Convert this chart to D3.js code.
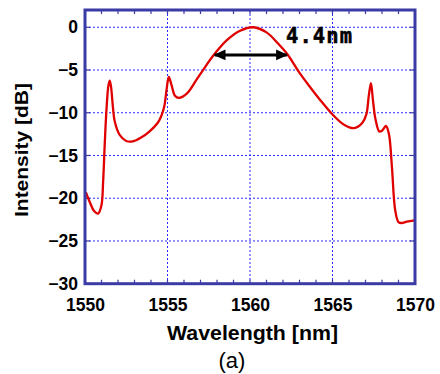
<!DOCTYPE html>
<html><head><meta charset="utf-8">
<script src="https://cdn.jsdelivr.net/npm/d3@7"></script>
<style>
body{margin:0;background:#fff;}
svg{display:block;}
</style></head>
<body><svg id="c" width="440" height="374"></svg>
<script>
const wavelength = [1550.05,1550.3,1550.55,1550.8,1551.0,1551.1,1551.2,1551.3,1551.42,1551.5,1551.58,1551.7,1551.8,1552.1,1552.5,1552.9,1553.4,1553.9,1554.4,1554.6,1554.8,1554.95,1555.08,1555.25,1555.45,1555.7,1556.2,1556.8,1557.3,1557.8,1558.6,1559.4,1560.2,1561.0,1561.7,1562.3,1562.95,1563.6,1564.25,1565.0,1565.7,1566.3,1566.8,1567.05,1567.2,1567.33,1567.45,1567.6,1567.84,1568.0,1568.24,1568.42,1568.6,1568.8,1569.0,1569.2,1569.5,1570.0];
const intensity = [-19.3,-20.5,-21.5,-21.8,-20.8,-18.0,-13.5,-9.7,-6.8,-6.25,-7.0,-9.5,-11.0,-12.6,-13.3,-13.35,-12.9,-12.2,-11.2,-10.5,-9.3,-7.2,-5.8,-6.8,-8.0,-8.25,-7.7,-6.0,-4.6,-3.24,-1.5,-0.4,0,-0.6,-1.9,-3.24,-5.2,-6.9,-8.5,-10.2,-11.4,-11.8,-11.2,-10.2,-8.0,-6.55,-8.5,-10.7,-12.2,-12.1,-11.55,-12.5,-16.3,-21.4,-22.8,-22.9,-22.75,-22.6];
const xTicks = [1550,1555,1560,1565,1570];
const yTicks = [0,-5,-10,-15,-20,-25,-30];
const xMinorTicks = d3.range(1551,1570,1);
const fwhmRange = [1557.8,1562.3];
const fwhmLevel = -3.24;
const fwhmLabel = "4.4nm";

const svg = d3.select("#c");
const L=85,R=415,T=10,B=283.7;
const x = d3.scaleLinear().domain([1550,1570]).range([L,R]);
const y = d3.scaleLinear().domain([-30,2.02]).range([B,T]);
const gridColor="#2a2aff", frameColor="#3b3ba6";

const g = svg.append("g");
g.selectAll(".gx").data(xTicks.slice(1,-1)).enter().append("line")
  .attr("x1",d=>x(d)).attr("x2",d=>x(d)).attr("y1",T).attr("y2",B)
  .attr("stroke",gridColor).attr("stroke-width",1).attr("stroke-dasharray","2,2");
g.selectAll(".gy").data(yTicks.slice(0,-1)).enter().append("line")
  .attr("y1",d=>y(d)).attr("y2",d=>y(d)).attr("x1",L).attr("x2",R)
  .attr("stroke",gridColor).attr("stroke-width",1).attr("stroke-dasharray","2,2");

g.selectAll(".mt").data(xMinorTicks).enter().append("line")
  .attr("x1",d=>x(d)).attr("x2",d=>x(d)).attr("y1",T).attr("y2",T+4)
  .attr("stroke",frameColor).attr("stroke-width",1.2);
g.selectAll(".mb").data(xMinorTicks).enter().append("line")
  .attr("x1",d=>x(d)).attr("x2",d=>x(d)).attr("y1",B).attr("y2",B-4)
  .attr("stroke",frameColor).attr("stroke-width",1.2);
g.selectAll(".tr").data(yTicks).enter().append("line")
  .attr("x1",R).attr("x2",R-5).attr("y1",d=>y(d)).attr("y2",d=>y(d))
  .attr("stroke",frameColor).attr("stroke-width",1.2);
g.selectAll(".tl").data(yTicks).enter().append("line")
  .attr("x1",L).attr("x2",L+5).attr("y1",d=>y(d)).attr("y2",d=>y(d))
  .attr("stroke",frameColor).attr("stroke-width",1.2);

const pts = wavelength.map((w,i)=>[w,intensity[i]]);
svg.append("path").datum(pts)
  .attr("d", d3.line().x(d=>x(d[0])).y(d=>y(d[1])).curve(d3.curveCatmullRom.alpha(0.5)))
  .attr("fill","none").attr("stroke","#e00000").attr("stroke-width",2.3).attr("stroke-linejoin","round");

const defs = svg.append("defs");
defs.append("marker").attr("id","ah").attr("viewBox","0 0 10 10").attr("refX",9).attr("refY",5)
  .attr("markerWidth",4).attr("markerHeight",4).attr("orient","auto-start-reverse")
  .attr("markerUnits","strokeWidth")
  .append("path").attr("d","M0,0.5 L10,5 L0,9.5 Z").attr("fill","#000");
svg.append("line").attr("x1",x(fwhmRange[0])+1).attr("x2",x(fwhmRange[1])-1)
  .attr("y1",y(fwhmLevel)).attr("y2",y(fwhmLevel))
  .attr("stroke","#000").attr("stroke-width",3)
  .attr("marker-start","url(#ah)").attr("marker-end","url(#ah)");
svg.append("text").attr("x",286).attr("y",43)
  .attr("font-family","DejaVu Sans Mono").attr("font-weight","bold").attr("font-size",20.5)
  .attr("textLength",66).attr("lengthAdjust","spacing").attr("fill","#000")
  .attr("stroke","#000").attr("stroke-width",0.5).text(fwhmLabel);

svg.append("rect").attr("x",L).attr("y",T).attr("width",R-L).attr("height",B-T)
  .attr("fill","none").attr("stroke",frameColor).attr("stroke-width",3);

const xa = svg.append("g").attr("transform",`translate(0,${B})`)
  .call(d3.axisBottom(x).tickValues(xTicks).tickSize(0).tickPadding(15).tickFormat(d3.format("d")));
const ya = svg.append("g").attr("transform",`translate(${L},0)`)
  .call(d3.axisLeft(y).tickValues(yTicks).tickSize(0).tickPadding(7).tickFormat(d3.format("d")));
[xa,ya].forEach(a=>{
  a.select(".domain").remove();
  a.selectAll("text").attr("font-family","Liberation Sans, Arial").attr("font-weight","bold")
   .attr("font-size",17.5).attr("fill","#000");
});

svg.append("text").attr("x",252.5).attr("y",340).attr("text-anchor","middle")
  .attr("font-family","Liberation Sans, Arial").attr("font-weight","bold").attr("font-size",20)
  .attr("textLength",171).attr("lengthAdjust","spacingAndGlyphs")
  .text("Wavelength [nm]");
svg.append("text").attr("transform","translate(28,150) rotate(-90)").attr("text-anchor","middle")
  .attr("font-family","Liberation Sans, Arial").attr("font-weight","bold").attr("font-size",19)
  .attr("textLength",134).attr("lengthAdjust","spacingAndGlyphs")
  .text("Intensity [dB]");
svg.append("text").attr("x",232).attr("y",368).attr("text-anchor","middle")
  .attr("font-family","Liberation Sans, Arial").attr("font-size",22)
  .text("(a)");
</script></body></html>
